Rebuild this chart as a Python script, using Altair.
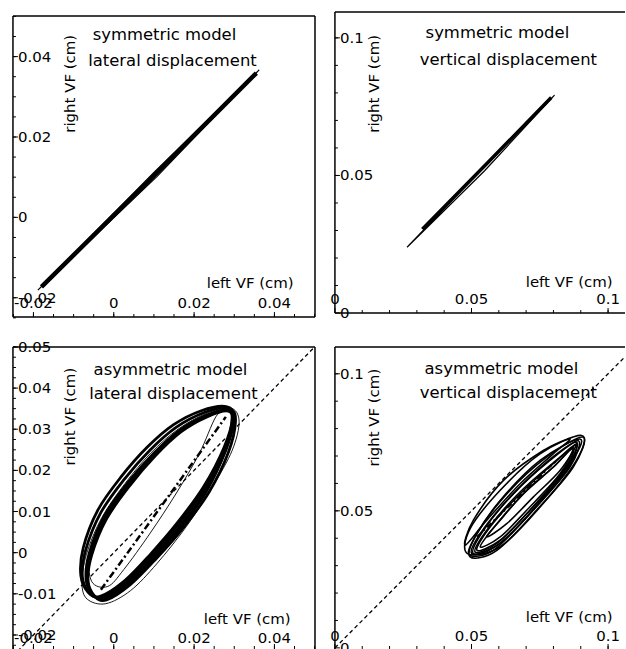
import altair as alt
import pandas as pd

FONT = "DejaVu Sans"

# ---------------- data ----------------
# top-left: symmetric model, lateral displacement
tl_thick_x = [-0.0180, 0.0090, 0.0355]
tl_thick_y = [-0.0173, 0.0094, 0.0359]
tl_thin_x = [-0.0189, 0.0100, 0.0362, 0.0108]
tl_thin_y = [-0.0181, 0.0112, 0.0367, 0.0102]

# top-right: symmetric model, vertical displacement
tr_thick_x = [0.0320, 0.0560, 0.0792]
tr_thick_y = [0.0305, 0.0547, 0.0783]
tr_thin_x = [0.0264, 0.0540, 0.0804, 0.0548]
tr_thin_y = [0.0239, 0.0525, 0.0792, 0.0517]

# bottom-left: asymmetric model, lateral displacement (closed orbits)
bl_main_x = [
    [0.0287, 0.0230, 0.0164, 0.0099, 0.0034, -0.0024, -0.0061, -0.0069,
     -0.0052, -0.0024, 0.0034, 0.0099, 0.0164, 0.0230, 0.0279, 0.0299],
    [0.0283, 0.0224, 0.0156, 0.0090, 0.0025, -0.0033, -0.0070, -0.0078,
     -0.0060, -0.0030, 0.0030, 0.0095, 0.0160, 0.0227, 0.0277, 0.0297],
    [0.0285, 0.0232, 0.0168, 0.0104, 0.0040, -0.0018, -0.0055, -0.0064,
     -0.0048, -0.0020, 0.0038, 0.0102, 0.0166, 0.0230, 0.0276, 0.0294],
    [0.0280, 0.0218, 0.0149, 0.0083, 0.0018, -0.0040, -0.0076, -0.0082,
     -0.0064, -0.0034, 0.0026, 0.0091, 0.0157, 0.0224, 0.0275, 0.0296],
    [0.0290, 0.0233, 0.0166, 0.0101, 0.0037, -0.0021, -0.0058, -0.0066,
     -0.0048, -0.0018, 0.0041, 0.0106, 0.0171, 0.0237, 0.0285, 0.0303],
]
bl_main_y = [
    [0.0348, 0.0334, 0.0298, 0.0241, 0.0169, 0.0088, -0.0001, -0.0065,
     -0.0102, -0.0110, -0.0073, -0.0009, 0.0064, 0.0153, 0.0249, 0.0322],
    [0.0352, 0.0340, 0.0305, 0.0249, 0.0177, 0.0096, 0.0006, -0.0060,
     -0.0098, -0.0108, -0.0071, -0.0006, 0.0068, 0.0158, 0.0254, 0.0328],
    [0.0344, 0.0330, 0.0294, 0.0236, 0.0163, 0.0082, -0.0006, -0.0068,
     -0.0105, -0.0113, -0.0076, -0.0013, 0.0060, 0.0148, 0.0244, 0.0317],
    [0.0355, 0.0345, 0.0311, 0.0256, 0.0184, 0.0103, 0.0012, -0.0056,
     -0.0096, -0.0106, -0.0069, -0.0004, 0.0071, 0.0161, 0.0257, 0.0331],
    [0.0347, 0.0332, 0.0295, 0.0238, 0.0166, 0.0085, -0.0004, -0.0068,
     -0.0106, -0.0115, -0.0078, -0.0014, 0.0058, 0.0147, 0.0243, 0.0318],
]
bl_outer_x = [0.0290, 0.0230, 0.0160, 0.0092, 0.0028, -0.0030, -0.0068, -0.0079,
              -0.0066, -0.0020, 0.0042, 0.0107, 0.0181, 0.0246, 0.0295, 0.0312]
bl_outer_y = [0.0352, 0.0338, 0.0300, 0.0242, 0.0168, 0.0085, -0.0004, -0.0075,
              -0.0113, -0.0124, -0.0092, -0.0027, 0.0064, 0.0161, 0.0249, 0.0320]
bl_inner_x = [0.0280, 0.0228, 0.0162, 0.0097, 0.0032, -0.0026, -0.0060, -0.0055,
              -0.0015, 0.0025, 0.0091, 0.0156, 0.0213, 0.0254]
bl_inner_y = [0.0348, 0.0334, 0.0298, 0.0241, 0.0169, 0.0088, 0.0000, -0.0070,
              -0.0082, -0.0041, 0.0048, 0.0145, 0.0241, 0.0330]
bl_center_x = [-0.0032, 0.0279]
bl_center_y = [-0.0090, 0.0330]
bl_diag = [-0.0300, 0.0600]

# bottom-right: asymmetric model, vertical displacement (closed orbits)
br_loops_x = [
    [0.0485, 0.0495, 0.0605, 0.0751, 0.0903, 0.0884, 0.0751, 0.0605],
    [0.0495, 0.0520, 0.0629, 0.0775, 0.0909, 0.0872, 0.0738, 0.0593],
    [0.0507, 0.0544, 0.0653, 0.0787, 0.0891, 0.0860, 0.0726, 0.0605],
    [0.0520, 0.0568, 0.0678, 0.0799, 0.0884, 0.0848, 0.0714, 0.0605],
    [0.0532, 0.0593, 0.0690, 0.0799, 0.0872, 0.0824, 0.0702, 0.0605],
    [0.0477, 0.0507, 0.0617, 0.0763, 0.0860, 0.0799, 0.0678, 0.0556],
    [0.0556, 0.0605, 0.0702, 0.0799, 0.0884, 0.0824, 0.0726, 0.0629],
    [0.0493, 0.0513, 0.0605, 0.0751, 0.0897, 0.0860, 0.0702, 0.0580],
    [0.0501, 0.0532, 0.0641, 0.0775, 0.0884, 0.0848, 0.0714, 0.0586],
    [0.0513, 0.0556, 0.0665, 0.0787, 0.0872, 0.0836, 0.0708, 0.0593],
]
br_loops_y = [
    [0.0344, 0.0435, 0.0575, 0.0708, 0.0775, 0.0684, 0.0514, 0.0369],
    [0.0332, 0.0417, 0.0562, 0.0696, 0.0769, 0.0659, 0.0502, 0.0356],
    [0.0344, 0.0429, 0.0562, 0.0684, 0.0756, 0.0659, 0.0502, 0.0381],
    [0.0356, 0.0441, 0.0562, 0.0672, 0.0744, 0.0647, 0.0502, 0.0393],
    [0.0369, 0.0453, 0.0562, 0.0659, 0.0732, 0.0635, 0.0502, 0.0405],
    [0.0375, 0.0466, 0.0611, 0.0720, 0.0762, 0.0708, 0.0599, 0.0466],
    [0.0405, 0.0466, 0.0575, 0.0659, 0.0744, 0.0647, 0.0550, 0.0453],
    [0.0338, 0.0405, 0.0538, 0.0684, 0.0762, 0.0672, 0.0478, 0.0356],
    [0.0344, 0.0417, 0.0550, 0.0678, 0.0750, 0.0659, 0.0490, 0.0369],
    [0.0350, 0.0429, 0.0556, 0.0665, 0.0726, 0.0647, 0.0496, 0.0381],
]
br_center_x = [0.0520, 0.0811]
br_center_y = [0.0405, 0.0684]
br_diag = [0.0000, 0.1200]

# axis ticks and tick labels
lat_major = [-0.02, 0, 0.02, 0.04]
lat_labels = ["-0.02", "0", "0.02", "0.04"]
lat_minor = [-0.025, -0.02, -0.015, -0.01, -0.005, 0, 0.005, 0.01, 0.015, 0.02,
             0.025, 0.03, 0.035, 0.04, 0.045, 0.05]
bl_y_major = [-0.02, -0.01, 0, 0.01, 0.02, 0.03, 0.04, 0.05]
bl_y_labels = ["-0.02", "-0.01", "0", "0.01", "0.02", "0.03", "0.04", "0.05"]
bl_y_minor = [-0.0225, -0.02, -0.0175, -0.015, -0.0125, -0.01, -0.0075, -0.005, -0.0025,
              0, 0.0025, 0.005, 0.0075, 0.01, 0.0125, 0.015, 0.0175, 0.02, 0.0225,
              0.025, 0.0275, 0.03, 0.0325, 0.035, 0.0375, 0.04, 0.0425, 0.045, 0.0475, 0.05]
ver_major = [0, 0.05, 0.1]
ver_labels = ["0", "0.05", "0.1"]
ver_minor = [0.01, 0.02, 0.03, 0.04, 0.05, 0.06, 0.07, 0.08, 0.09, 0.1]


# ---------------- helpers ----------------
ONE = alt.Data(values=[{"a": 0}])
TICK_FS = 15


def series_df(xs_list, ys_list):
    rows = []
    for k, (xs, ys) in enumerate(zip(xs_list, ys_list)):
        for i, (x, y) in enumerate(zip(xs, ys)):
            rows.append({"s": k, "i": i, "x": x, "y": y})
    return pd.DataFrame(rows)


def sc(dom):
    return alt.Scale(domain=dom, nice=False, zero=False)


def curves(df, xd, yd, width, interp="linear", dash=None, clip=False):
    kw = dict(color="black", strokeWidth=width, interpolate=interp, clip=clip)
    if dash is not None:
        kw["strokeDash"] = dash
    return alt.Chart(df).mark_line(**kw).encode(
        x=alt.X("x:Q", scale=sc(xd), axis=None),
        y=alt.Y("y:Q", scale=sc(yd), axis=None),
        detail="s:N",
        order="i:Q",
    )


def x_ticks(major, labs, minor, xd, H, base):
    """ticks rise from the bottom edge H; labels sit with their baseline at `base`"""
    dmaj = pd.DataFrame({"v": major, "t": labs})
    dmin = pd.DataFrame({"v": minor})
    xe = alt.X("v:Q", scale=sc(xd), axis=None)
    return [
        alt.Chart(dmin).mark_rule(color="black", strokeWidth=1).encode(
            x=xe, y=alt.value(H), y2=alt.value(H - 3)),
        alt.Chart(dmaj).mark_rule(color="black", strokeWidth=1).encode(
            x=xe, y=alt.value(H), y2=alt.value(H - 5)),
        alt.Chart(dmaj).mark_text(font=FONT, fontSize=TICK_FS, color="black", align="center",
                                  baseline="alphabetic").encode(
            x=xe, y=alt.value(base), text="t:N"),
    ]


def y_ticks(major, labs, minor, yd, clip=False):
    dmaj = pd.DataFrame({"v": major, "t": labs})
    dmin = pd.DataFrame({"v": minor})
    ye = alt.Y("v:Q", scale=sc(yd), axis=None)
    return [
        alt.Chart(dmin).mark_rule(color="black", strokeWidth=1).encode(
            y=ye, x=alt.value(0), x2=alt.value(3)),
        alt.Chart(dmaj).mark_rule(color="black", strokeWidth=1).encode(
            y=ye, x=alt.value(0), x2=alt.value(5)),
        alt.Chart(dmaj).mark_text(font=FONT, fontSize=TICK_FS, color="black", align="left",
                                  baseline="middle", clip=clip).encode(
            y=ye, x=alt.value(5), text="t:N"),
    ]


def hline(y, x1, x2):
    return alt.Chart(ONE).mark_rule(color="black", strokeWidth=1.5).encode(
        x=alt.value(x1), x2=alt.value(x2), y=alt.value(y))


def vline(x, y1, y2):
    return alt.Chart(ONE).mark_rule(color="black", strokeWidth=1.5).encode(
        x=alt.value(x), y=alt.value(y1), y2=alt.value(y2))


def text(t, x, y, size, angle=0):
    return alt.Chart(ONE).mark_text(text=t, font=FONT, fontSize=size, color="black",
                                    angle=angle, align="center", baseline="alphabetic").encode(
        x=alt.value(x), y=alt.value(y))


def labels(title1, title2, t1, t2, xt, yt):
    return [
        text(title1, t1[0], t1[1], 16.5),
        text(title2, t2[0], t2[1], 16.5),
        text("left VF (cm)", xt[0], xt[1], 15),
        text("right VF (cm)", yt[0], yt[1], 15, angle=270),
    ]


# ---------------- panels ----------------
# top-left
W, H = 303, 306
xd, yd = [-0.0251, 0.0501], [-0.0248, 0.0511]
tl = alt.layer(
    curves(series_df([tl_thick_x], [tl_thick_y]), xd, yd, 4.5),
    curves(series_df([tl_thin_x], [tl_thin_y]), xd, yd, 1.2, interp="linear-closed"),
    *x_ticks(lat_major, lat_labels, lat_minor, xd, H, H - 9),
    *y_ticks(lat_major, lat_labels, lat_minor, yd),
    hline(4, 0, W), hline(H, 0, W), vline(0, 4, H), vline(W, 4, H),
    *labels("symmetric model", "lateral displacement", (152, 28), (160, 54), (238, 277), (62, 72)),
).properties(width=W, height=H)

# top-right
W, H = 291, 302
xd, yd = [0, 0.1062], [0, 0.1094]
tr = alt.layer(
    curves(series_df([tr_thick_x], [tr_thick_y]), xd, yd, 3.5),
    curves(series_df([tr_thin_x], [tr_thin_y]), xd, yd, 1.2, interp="linear-closed"),
    *x_ticks(ver_major, ver_labels, ver_minor, xd, H, H - 9),
    *y_ticks(ver_major, ver_labels, ver_minor, yd),
    hline(0, 0, W), hline(H, 0, W), vline(0, 0, H),
    *labels("symmetric model", "vertical displacement", (163, 26), (174, 53), (235, 276), (44, 72)),
).properties(width=W, height=H)

# bottom-left
W, H = 303, 303
xd, yd = [-0.0251, 0.0501], [-0.0234, 0.05]
bl = alt.layer(
    curves(series_df([bl_diag], [bl_diag]), xd, yd, 1.3, dash=[4, 3], clip=True),
    curves(series_df([bl_outer_x, bl_inner_x], [bl_outer_y, bl_inner_y]), xd, yd, 0.9,
           interp="cardinal-closed"),
    curves(series_df(bl_main_x, bl_main_y), xd, yd, 2.8, interp="cardinal-closed"),
    curves(series_df([bl_center_x], [bl_center_y]), xd, yd, 2.5, dash=[7, 3, 2, 3]),
    *x_ticks(lat_major, lat_labels, lat_minor, xd, H, H - 6),
    *y_ticks(bl_y_major, bl_y_labels, bl_y_minor, yd),
    hline(0, 0, W), vline(0, 0, H), vline(W, 0, H),
    *labels("asymmetric model", "lateral displacement", (158, 28), (161, 52), (235, 278), (62, 70)),
).properties(width=W, height=H)

# bottom-right
W, H = 291, 303
xd, yd = [0, 0.1062], [-0.0004, 0.1098]
br = alt.layer(
    curves(series_df([br_diag], [br_diag]), xd, yd, 1.3, dash=[4, 3], clip=True),
    curves(series_df(br_loops_x, br_loops_y), xd, yd, 1.6, interp="cardinal-closed"),
    curves(series_df([br_center_x], [br_center_y]), xd, yd, 2, dash=[6, 3, 2, 3]),
    *x_ticks(ver_major, ver_labels, ver_minor, xd, H, H - 8),
    *y_ticks(ver_major, ver_labels, ver_minor, yd, clip=True),
    hline(0, 0, W), vline(0, 0, H),
    *labels("asymmetric model", "vertical displacement", (167, 27), (174, 51), (235, 276), (44, 71)),
).properties(width=W, height=H)

chart = alt.concat(tl, tr, bl, br, columns=2, spacing={"row": 30, "column": 20},
                   bounds="flush").properties(
    padding={"left": 12, "top": 10, "right": 0, "bottom": 0},
    background="white",
).configure_view(stroke=None)

chart.save("out.html", embed_options={"renderer": "svg", "actions": False})
